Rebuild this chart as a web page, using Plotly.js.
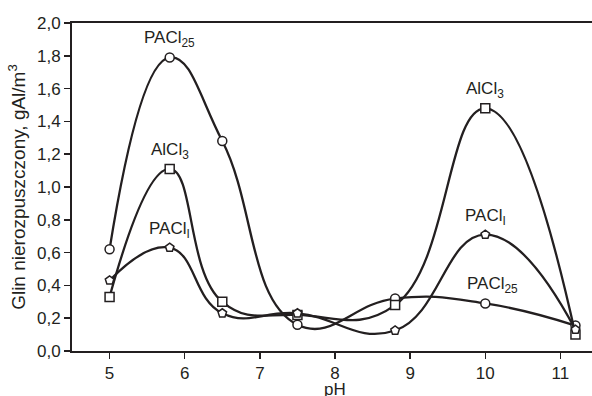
<!DOCTYPE html>
<html><head><meta charset="utf-8">
<script src="https://cdn.plot.ly/plotly-3.0.1.min.js"></script>
<style>html,body{margin:0;padding:0;background:#fff}#c{width:592px;height:396px}</style>
</head><body><div id="c"></div>
<script>
const pH = [5, 5.8, 6.5, 7.5, 8.8, 10, 11.2];
const pacl25 = [0.62, 1.79, 1.28, 0.16, 0.32, 0.29, 0.155];
const alcl3 = [0.33, 1.11, 0.30, 0.22, 0.28, 1.48, 0.10];
const paclI = [0.43, 0.63, 0.23, 0.23, 0.125, 0.71, 0.13];
const xTicks = [5, 6, 7, 8, 9, 10, 11];
const yTicks = [0, 0.2, 0.4, 0.6, 0.8, 1.0, 1.2, 1.4, 1.6, 1.8, 2.0];
const xTitle = 'pH';
const yTitle = 'Glin nierozpuszczony, gAl/m<sup>3</sup>';

const labels = [
  {x: 5.8, y: 1.79, text: 'PACl<sub>25</sub>'},
  {x: 5.8, y: 1.11, text: 'AlCl<sub>3</sub>'},
  {x: 5.8, y: 0.63, text: 'PACl<sub>I</sub>'},
  {x: 10, y: 1.48, text: 'AlCl<sub>3</sub>'},
  {x: 10, y: 0.71, text: 'PACl<sub>I</sub>'},
  {x: 10.1, y: 0.29, text: 'PACl<sub>25</sub>'}
];

const line = {color: '#231f20', width: 2.3, shape: 'spline', smoothing: 1.3};
const mk = (sym) => ({symbol: sym, size: 9, color: '#fff', line: {color: '#231f20', width: 1.5}});

const traces = [
  {x: pH, y: pacl25, mode: 'lines+markers', line: line, marker: mk('circle'), name: 'PACl25'},
  {x: pH, y: alcl3, mode: 'lines+markers', line: line, marker: mk('square'), name: 'AlCl3'},
  {x: pH, y: paclI, mode: 'lines+markers', line: line, marker: mk('pentagon'), name: 'PAClI'}
];

const font = {family: 'Liberation Sans, Arial, sans-serif', size: 17, color: '#231f20'};
const yTitleFont = {family: 'Liberation Sans, Arial, sans-serif', size: 19, color: '#231f20'};

const annotations = labels.map(l => ({x: l.x, y: l.y, xref: 'x', yref: 'y', text: l.text, showarrow: false, yshift: 18, font: font}));
annotations.push({x: 8, y: 0, xref: 'x', yref: 'paper', yanchor: 'top', yshift: -27, text: xTitle, showarrow: false, font: font});

const layout = {
  width: 592, height: 396,
  margin: {l: 72, r: 0, t: 23, b: 45},
  paper_bgcolor: '#fff', plot_bgcolor: '#fff',
  separators: ', ',
  showlegend: false,
  font: font,
  xaxis: {
    range: [4.5, 11.42], tickvals: xTicks, ticktext: xTicks.map(String),
    showgrid: false, zeroline: false, showline: true, linecolor: '#231f20', linewidth: 2,
    mirror: true, ticks: 'outside', ticklen: 6, tickwidth: 1.5, tickcolor: '#231f20',
    tickfont: font
  },
  yaxis: {
    range: [0, 2.0], tickvals: yTicks, tickformat: '.1f',
    showgrid: false, zeroline: false, showline: true, linecolor: '#231f20', linewidth: 2,
    ticks: 'outside', ticklen: 6, tickwidth: 1.5, tickcolor: '#231f20',
    tickfont: font,
    title: {text: yTitle, font: yTitleFont, standoff: 6}
  },
  annotations: annotations
};

Plotly.newPlot('c', traces, layout, {displayModeBar: false, staticPlot: true});
</script></body></html>
